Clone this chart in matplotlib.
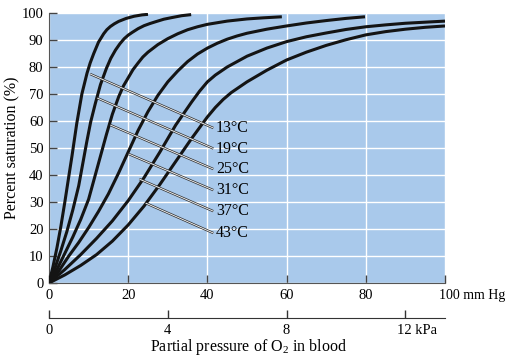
import matplotlib
matplotlib.use('Agg')
import matplotlib.pyplot as plt

# saturation curves (x: mm Hg, y: % saturation)
c13_x = [0, 1, 2, 3, 4, 5, 5.8, 7, 8.3, 9.6, 10.4, 11.3, 12.5, 13.8, 14.6, 15.5, 16.5, 17.6, 19.5, 21.5, 23.5, 25]
c13_y = [0, 6, 13, 21, 30, 39.5, 47, 59, 70, 77.7, 81.5, 85, 89.2, 92.3, 93.8, 95, 96, 96.9, 98, 98.8, 99.3, 99.5]
c19_x = [0, 1.5, 3, 4.5, 6, 7.5, 8.5, 9.5, 10.5, 11.7, 13, 14.5, 15.6, 16.8, 17.9, 19, 20, 21, 22.5, 24, 25.5,
         27, 29, 31, 33.5, 35.9]
c19_y = [0, 5.5, 12, 19, 27, 36, 44, 52, 59.5, 66.5, 73.5, 79.5, 83.2, 86.3, 88.6, 90.5, 91.8, 92.8, 94.2, 95.3, 96.1,
         96.8, 97.7, 98.3, 99, 99.4]
c25_x = [0, 2, 4, 6, 8, 10, 11.5, 13, 14.5, 16, 17.6, 18.8, 20, 21.2, 22.5, 23.7, 25, 27.5, 30, 32.5, 35, 37.5,
         40, 45, 50, 54, 58.8]
c25_y = [0, 5, 11, 17, 23.5, 31, 39, 47, 55, 62.5, 69, 73, 76, 79, 81.5, 83.7, 85.5, 88.3, 90.5, 92.3, 93.8, 94.9,
         95.8, 97, 97.8, 98.2, 98.6]
c31_x = [0, 2.5, 5, 7.5, 10, 12.5, 15, 17.5, 20, 22.5, 25, 27.5, 30, 32.5, 35, 37.5, 40, 42.5, 45, 47.5, 50, 55,
         60, 65, 70, 75, 79.8]
c31_y = [0, 4.5, 10, 15, 20.5, 26.5, 33, 40.5, 48.5, 56.5, 63.5, 69.5, 74.5, 78.5, 82, 84.8, 87, 88.8, 90.3, 91.5,
         92.5, 94, 95.2, 96.3, 97.2, 98, 98.6]
c37_x = [0, 4, 8, 12, 16, 20, 24, 28, 32, 36, 38, 40, 42, 45, 50, 55, 60, 65, 70, 75, 80, 85, 90, 100]
c37_y = [0, 5, 10.5, 16.5, 23, 30.5, 39, 48.5, 58.5, 67, 71, 74.5, 77, 80, 84, 87, 89.4, 91.2, 92.6, 93.9, 94.9,
         95.6, 96.2, 97]
c43_x = [0, 4, 8, 12, 16, 20, 24, 28, 32, 36, 40, 42, 44, 46, 50, 55, 60, 65, 70, 75, 80, 85, 90, 95, 100]
c43_y = [0, 3, 6.5, 10.5, 15.5, 21.5, 28.5, 36.5, 45, 53.5, 61.5, 65, 68, 70.5, 74.5, 78.8, 82.6, 85.5, 88, 90.1,
         91.9, 93.1, 94, 94.7, 95.2]

temps = ['13°C', '19°C', '25°C', '31°C', '37°C', '43°C']
# leader lines: start on each curve, end at the label
lead_x0 = [10.4, 12.2, 15.5, 20.1, 22.8, 24.4]
lead_y0 = [77.4, 68.5, 58.5, 47.8, 38.5, 29.6]
lead_x1 = 41.5
lead_y1 = [57.4, 49.8, 42.2, 34.4, 26.6, 18.5]

kpa_ticks = [0, 4, 8, 12]

plt.rcParams['font.family'] = ['Liberation Serif', 'DejaVu Serif']
plt.rcParams['mathtext.fontset'] = 'stix'

W, H = 508, 358
fig = plt.figure(figsize=(W / 100, H / 100), dpi=100)
ax = fig.add_axes([49 / W, (H - 283) / H, 396 / W, 270 / H])
ax.set_facecolor('#a9c9eb')

curves = [(c13_x, c13_y), (c19_x, c19_y), (c25_x, c25_y),
          (c31_x, c31_y), (c37_x, c37_y), (c43_x, c43_y)]
for cx, cy in curves:
    ax.plot(cx, cy, color='#141414', lw=2.2, solid_joinstyle='round', solid_capstyle='butt', zorder=3)

for t, x0, y0, y1 in zip(temps, lead_x0, lead_y0, lead_y1):
    ax.plot([x0, lead_x1], [y0, y1], color='#333333', lw=1.7, solid_capstyle='butt', zorder=4)
    ax.plot([x0, lead_x1], [y0, y1], color='white', lw=0.6, solid_capstyle='butt', zorder=5)
    ax.text(lead_x1 + 0.7, y1, t, fontsize=11.5, va='center', ha='left', zorder=6)

ax.set_xlim(0, 100)
ax.set_ylim(0, 100)
ax.set_xticks(range(0, 101, 20))
ax.set_yticks(range(0, 101, 10))
ax.set_xticklabels(['0', '20', '40', '60', '80', ''])
ax.grid(True, color='white', lw=1.0)
ax.set_axisbelow(True)
ax.tick_params(direction='in', length=6, width=1, color='#444444', labelsize=10.5, pad=4)
for s in ['top', 'right']:
    ax.spines[s].set_visible(False)
for s in ['left', 'bottom']:
    ax.spines[s].set_color('#555555')
ax.annotate('100 mm Hg', xy=(100, 0), xycoords=('data', 'axes fraction'),
            xytext=(-4, -4), textcoords='offset points', fontsize=10,
            ha='left', va='top', annotation_clip=False)
ax.set_ylabel('Percent saturation (%)', fontsize=11.5, labelpad=1)

# second scale in kPa
ax2 = fig.add_axes([49 / W, (H - 318) / H, 396 / W, 0.001])
ax2.patch.set_visible(False)
for s in ['top', 'left', 'right']:
    ax2.spines[s].set_visible(False)
ax2.spines['bottom'].set_color('#333333')
ax2.set_xlim(0, 100 / 7.50062)
ax2.set_xticks(kpa_ticks)
ax2.set_xticklabels(['0', '4', '8', ''])
ax2.set_yticks([])
ax2.tick_params(direction='in', length=6, width=1, color='#333333', labelsize=10.5, pad=4)
ax2.annotate('12 kPa', xy=(12, 0), xycoords=('data', 'axes fraction'),
             xytext=(-6, -4), textcoords='offset points', fontsize=10.5,
             ha='left', va='top', annotation_clip=False)

fig.text(249 / W, 1 - 347 / H, r'Partial pressure of O$_\mathregular{2}$ in blood',
         fontsize=11.5, ha='center', va='center')

fig.savefig('out.png', dpi=100)
